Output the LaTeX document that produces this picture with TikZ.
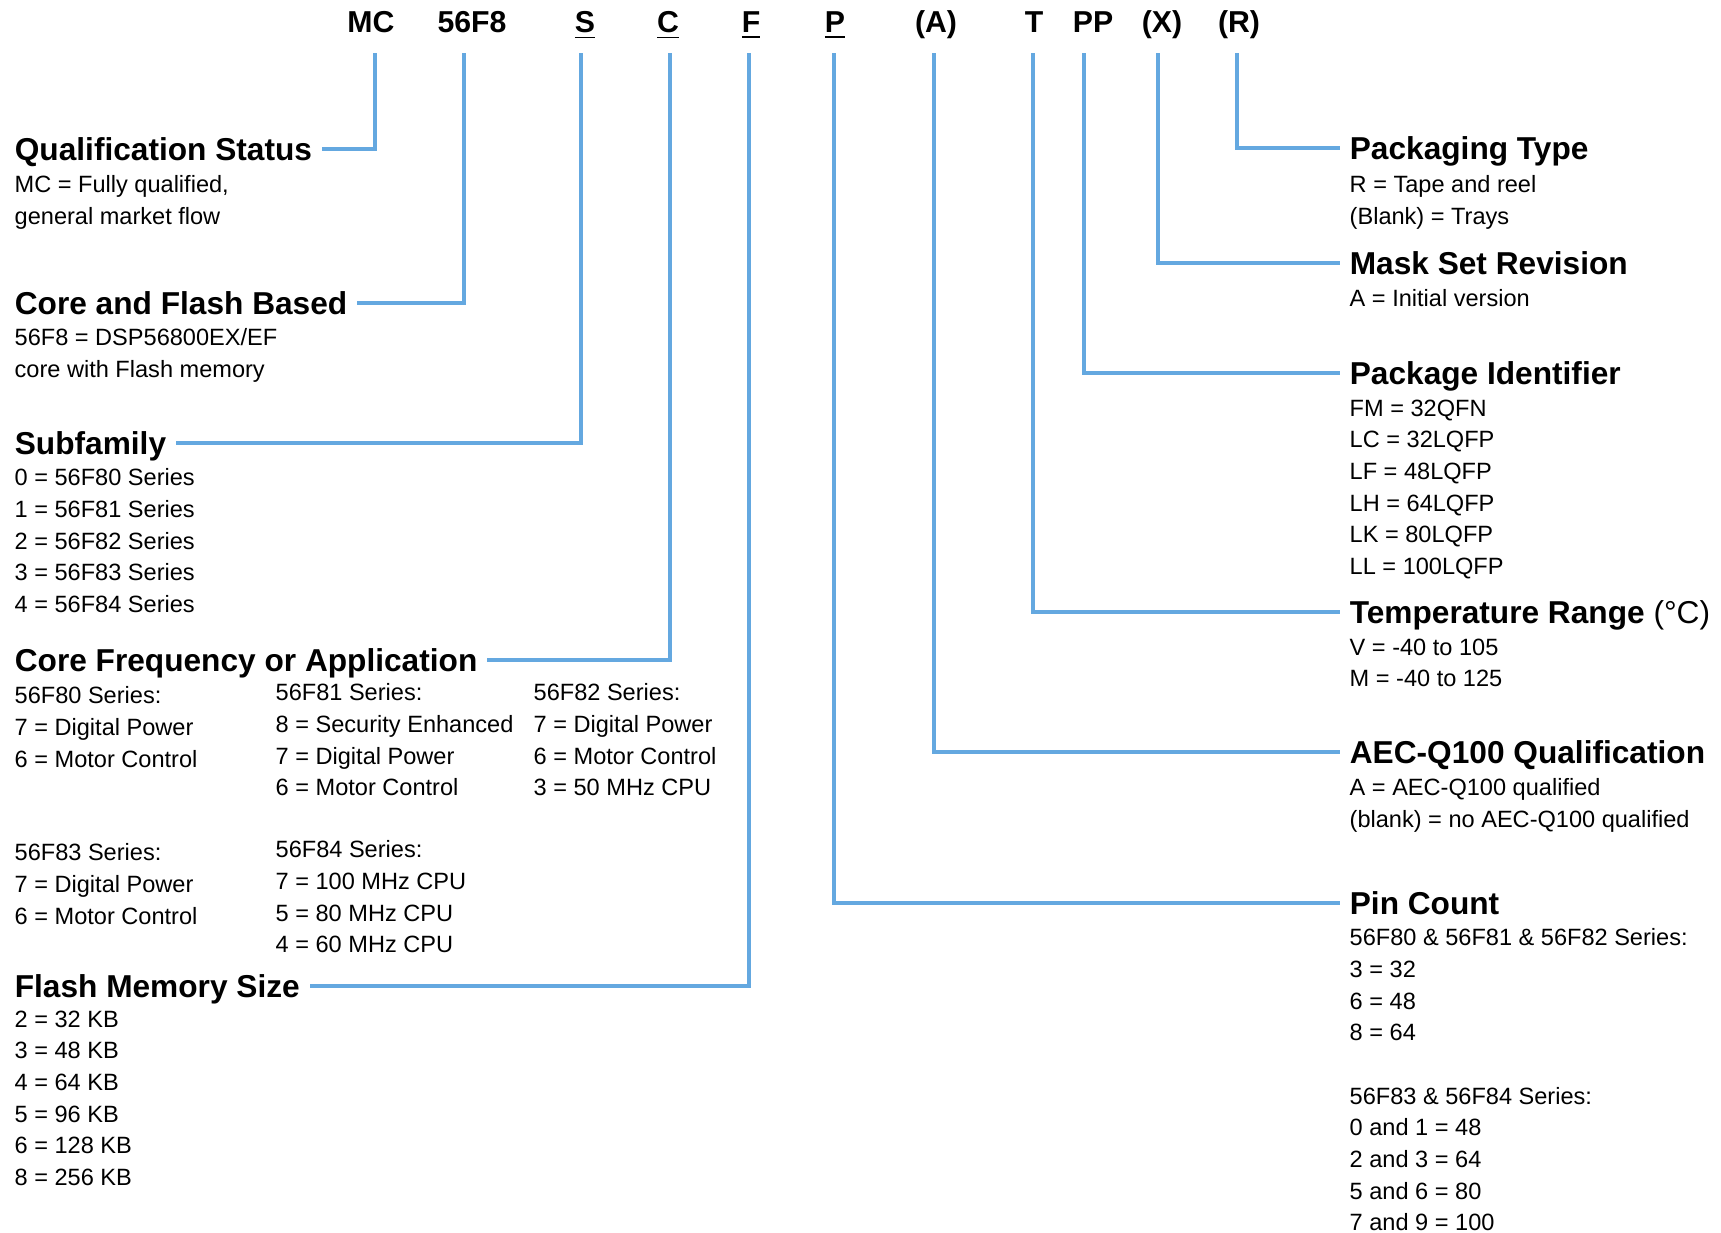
\documentclass[tikz,border=0pt]{standalone}
\usepackage{fontspec}
\setmainfont{Liberation Sans}
\usepackage{tikz}
\definecolor{linkblue}{RGB}{100,168,224}

\begin{document}
\begin{tikzpicture}
  [ x=0.01cm, y=-0.01cm
  , code/.style={font=\fontsize{8.6}{10}\selectfont\bfseries, anchor=base, inner sep=0pt}
  , head/.style={font=\fontsize{9}{11}\selectfont\bfseries, text height=6.5pt, text depth=0pt, inner xsep=2.6pt, inner ysep=0pt}
  , body/.style={font=\fontsize{6.7}{9}\selectfont, anchor=north west, align=left, inner sep=0pt}
  , link/.style={draw=linkblue, line width=0.95pt}]
  \useasboundingbox (0,0) rectangle (1721,1232);
  % part number
  \node (mc) at (371,32) [code] {MC};
  \node (core) at (472,32) [code] {56F8};
  \node (s) at (585,32) [code] {\underline{S}};
  \node (c) at (668,32) [code] {\underline{C}};
  \node (f) at (751,32) [code] {\underline{F}};
  \node (p) at (835,32) [code] {\underline{P}};
  \node (a) at (936,32) [code] {(A)};
  \node (t) at (1034,32) [code] {T};
  \node (pp) at (1093,32) [code] {PP};
  \node (x) at (1162,32) [code] {(X)};
  \node (r) at (1239,32) [code] {(R)};
  \coordinate (mcTop) at (375,53);
  \coordinate (coreTop) at (464,53);
  \coordinate (sTop) at (581,53);
  \coordinate (cTop) at (670,53);
  \coordinate (fTop) at (749,53);
  \coordinate (pTop) at (834,53);
  \coordinate (aTop) at (934,53);
  \coordinate (tTop) at (1033,53);
  \coordinate (ppTop) at (1084,53);
  \coordinate (xTop) at (1158,53);
  \coordinate (rTop) at (1237,53);
  % left fields
  \node (qs) at (5,149) [head, anchor=west] {Qualification Status};
  \node (qsText) at (14,175) [body] {MC = Fully qualified,\\general market flow};
  \node (cfb) at (5,303) [head, anchor=west] {Core and Flash Based};
  \node (cfbText) at (14,328) [body] {56F8 = DSP56800EX/EF\\core with Flash memory};
  \node (sub) at (5,443) [head, anchor=west] {Subfamily};
  \node (subText) at (14,468) [body] {0 = 56F80 Series\\1 = 56F81 Series\\2 = 56F82 Series\\3 = 56F83 Series\\4 = 56F84 Series};
  \node (cfa) at (5,660) [head, anchor=west] {Core Frequency or Application};
  \node (cfaA) at (14,686) [body] {56F80 Series:\\7 = Digital Power\\6 = Motor Control};
  \node (cfaB) at (275,683) [body] {56F81 Series:\\8 = Security Enhanced\\7 = Digital Power\\6 = Motor Control};
  \node (cfaC) at (533,683) [body] {56F82 Series:\\7 = Digital Power\\6 = Motor Control\\3 = 50 MHz CPU};
  \node (cfaD) at (14,843) [body] {56F83 Series:\\7 = Digital Power\\6 = Motor Control};
  \node (cfaE) at (275,840) [body] {56F84 Series:\\7 = 100 MHz CPU\\5 = 80 MHz CPU\\4 = 60 MHz CPU};
  \node (fms) at (5,986) [head, anchor=west] {Flash Memory Size};
  \node (fmsText) at (14,1010) [body] {2 = 32 KB\\3 = 48 KB\\4 = 64 KB\\5 = 96 KB\\6 = 128 KB\\8 = 256 KB};
  % right fields
  \node (pt) at (1340,148) [head, anchor=west] {Packaging Type};
  \node (ptText) at (1349,175) [body] {R = Tape and reel\\(Blank) = Trays};
  \node (msr) at (1340,263) [head, anchor=west] {Mask Set Revision};
  \node (msrText) at (1349,289) [body] {A = Initial version};
  \node (pi) at (1340,373) [head, anchor=west] {Package Identifier};
  \node (piText) at (1349,399) [body] {FM = 32QFN\\LC = 32LQFP\\LF = 48LQFP\\LH = 64LQFP\\LK = 80LQFP\\LL = 100LQFP};
  \node (tr) at (1340,612) [head, anchor=west] {Temperature Range {\mdseries(°C)}};
  \node (trText) at (1349,638) [body] {V = -40 to 105\\M = -40 to 125};
  \node (aec) at (1340,752) [head, anchor=west] {AEC-Q100 Qualification};
  \node (aecText) at (1349,778) [body] {A = AEC-Q100 qualified\\(blank) = no AEC-Q100 qualified};
  \node (pc) at (1340,903) [head, anchor=west] {Pin Count};
  \node (pcText) at (1349,928) [body] {56F80 \& 56F81 \& 56F82 Series:\\3 = 32\\6 = 48\\8 = 64\\[9pt]56F83 \& 56F84 Series:\\0 and 1 = 48\\2 and 3 = 64\\5 and 6 = 80\\7 and 9 = 100};
  % connectors
  \draw [link] (mcTop) |- (qs.east);
  \draw [link] (coreTop) |- (cfb.east);
  \draw [link] (sTop) |- (sub.east);
  \draw [link] (cTop) |- (cfa.east);
  \draw [link] (fTop) |- (fms.east);
  \draw [link] (pTop) |- (pc.west);
  \draw [link] (aTop) |- (aec.west);
  \draw [link] (tTop) |- (tr.west);
  \draw [link] (ppTop) |- (pi.west);
  \draw [link] (xTop) |- (msr.west);
  \draw [link] (rTop) |- (pt.west);
\end{tikzpicture}
\end{document}
